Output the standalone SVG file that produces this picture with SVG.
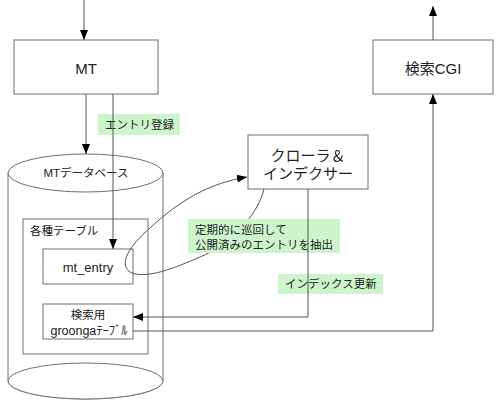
<svg xmlns="http://www.w3.org/2000/svg" width="500" height="409" viewBox="0 0 500 409">
<style>
.box{fill:#fff;stroke:#6e6e6e;stroke-width:1}
.ln{fill:none;stroke:#555;stroke-width:1}
.lbl{fill:#ccf5cc}
text{font-family:"Liberation Sans","Noto Sans CJK JP",sans-serif;fill:#222}
.t15{font-size:15px}
.t12{font-size:11.5px}
.mid{text-anchor:middle;dominant-baseline:central}
</style>
<defs>
<marker id="ah" markerUnits="userSpaceOnUse" markerWidth="10" markerHeight="10" viewBox="0 0 10 10" refX="10" refY="5" orient="auto">
<path d="M0,1 L10,5 L0,9 Z" fill="#000"/>
</marker>
<mask id="lblmask" maskUnits="userSpaceOnUse" x="0" y="0" width="500" height="409">
<rect x="0" y="0" width="500" height="409" fill="#fff"/>
<rect x="188" y="219" width="152" height="34" fill="#000"/>
</mask>
</defs>
<rect width="500" height="409" fill="#fff"/>
<g id="mt">
<rect class="box" x="14" y="40" width="144" height="54"/>
<text class="t15 mid" x="86" y="68">MT</text>
</g>
<g id="cgi">
<rect class="box" x="373" y="40" width="120" height="54"/>
<text class="t15 mid" x="433" y="68">検索CGI</text>
</g>
<g id="crawler">
<rect class="box" x="248" y="135" width="120" height="54"/>
<text class="t15 mid" x="308" y="155">クローラ＆</text>
<text class="t15 mid" x="308" y="173">インデクサー</text>
</g>
<g id="mtdb">
<path class="box" d="M8,173 L8,381 A77.5,18 0 0 0 163,381 L163,173 Z"/>
<ellipse class="box" cx="85.5" cy="381" rx="77.5" ry="18"/>
<ellipse class="box" cx="85.5" cy="173" rx="77.5" ry="19"/>
<text class="t12 mid" x="86" y="173">MTデータベース</text>
</g>
<g id="tables">
<rect class="box" x="23" y="219" width="125" height="135"/>
<text class="t12" x="30" y="235">各種テーブル</text>
</g>
<g id="mt_entry">
<rect class="box" x="43" y="249" width="90" height="35"/>
<text class="mid" x="88" y="267" style="font-size:13px">mt_entry</text>
</g>
<g id="groonga">
<rect class="box" x="43" y="304" width="90" height="35"/>
<text class="mid" x="88" y="315" style="font-size:11.5px">検索用</text>
<text class="mid" x="89" y="331" style="font-size:12.5px">groongaﾃｰﾌﾞﾙ</text>
</g>
<g id="labels">
<rect class="lbl" x="98" y="114" width="82" height="21"/>
<text class="t12" x="105" y="129">エントリ登録</text>
<rect class="lbl" x="188" y="219" width="152" height="34"/>
<text class="t12" x="195" y="234">定期的に巡回して</text>
<text class="t12" x="195" y="249">公開済みのエントリを抽出</text>
<rect class="lbl" x="278" y="274" width="105" height="20"/>
<text class="t12" x="285" y="288">インデックス更新</text>
</g>
<g id="connectors">
<path class="ln" d="M264,189 C258,215 230,245 200,257 C175,268 145,280 130,272 C118,264 130,245 150,228 C180,200 210,183 247,177" mask="url(#lblmask)" marker-end="url(#ah)"/>
<line class="ln" x1="84" y1="0" x2="84" y2="40" marker-end="url(#ah)"/>
<line class="ln" x1="86" y1="94" x2="86" y2="154" marker-end="url(#ah)"/>
<line class="ln" x1="113" y1="94" x2="113" y2="249" marker-end="url(#ah)"/>
<polyline class="ln" points="308,189 308,317 133,317" marker-end="url(#ah)"/>
<polyline class="ln" points="133,331 433,331 433,94" marker-end="url(#ah)"/>
<line class="ln" x1="433" y1="40" x2="433" y2="6" marker-end="url(#ah)"/>
</g>
</svg>
